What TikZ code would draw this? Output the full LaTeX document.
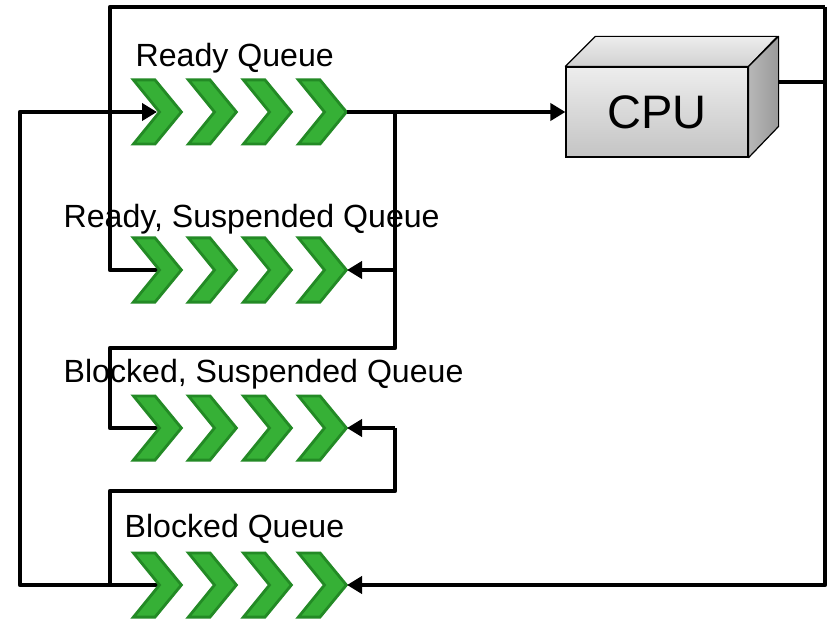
\documentclass[tikz,border=0pt]{standalone}
\usepackage{fontspec}
\setmainfont{Liberation Sans}
\usetikzlibrary{arrows.meta}
\definecolor{chevfill}{HTML}{36B036}
\definecolor{chevedge}{HTML}{238A25}
\definecolor{cpufront1}{HTML}{EDEDED}
\definecolor{cpufront2}{HTML}{C4C4C4}
\tikzset{
  flow/.style={line width=4.8pt, line join=round, draw=black},
  tip/.style={-{Triangle[length=15pt,width=17pt]}},
  qlabel/.style={anchor=base west, inner sep=0pt, font=\fontsize{32.1}{36}\selectfont},
  chevron/.pic={
    \draw[line width=2.8pt, draw=chevedge, fill=chevfill, line join=miter]
      (1.4,-32.1) -- (23,-32.1) -- (49.4,0) -- (23,32.1) -- (1.4,32.1) -- (27.5,0) -- cycle;
  }
}
\newcommand\drawqueue[1]{%
  \foreach \cx in {132,187,242,297} { \pic at (\cx,#1) {chevron}; }%
}
\begin{document}
\begin{tikzpicture}[x=1pt,y=-1pt]
\useasboundingbox (0,0) rectangle (829,620);
\fill[white] (0,0) rectangle (829,620);

% queue end points
\coordinate (rq-in) at (157,112);  \coordinate (rq-out) at (347,112);
\coordinate (rsq-in) at (165,270); \coordinate (rsq-out) at (347,270);
\coordinate (bsq-in) at (165,428); \coordinate (bsq-out) at (347,428);
\coordinate (bq-in) at (165,585);  \coordinate (bq-out) at (347,585);

% routing points
\coordinate (tl) at (110,7);   \coordinate (tr) at (825,7);
\coordinate (br) at (825,585); \coordinate (cpuj) at (825,82);
\coordinate (s1) at (395,112); \coordinate (s1b) at (395,270);
\coordinate (s2) at (395,348); \coordinate (s3) at (110,348);
\coordinate (s4) at (110,428);
\coordinate (u1) at (395,428); \coordinate (u2) at (395,491);
\coordinate (u3) at (110,491); \coordinate (u4) at (110,585);
\coordinate (l1) at (20,585);  \coordinate (l2) at (20,112);

% CPU
\node[draw, line width=1.2pt, minimum width=182pt, minimum height=90pt,
      top color=cpufront1, bottom color=cpufront2, inner sep=0pt,
      font=\fontsize{47}{50}\selectfont] (cpu) at (657,112) {CPU};
\draw[line width=1.2pt, line join=round, top color=white!93!black, bottom color=white!82!black]
  (cpu.north west) -- ++(30,-30) -- ++(182,0) -- (cpu.north east) -- cycle;
\draw[line width=1.2pt, line join=round, left color=white!72!black, right color=white!60!black]
  (cpu.north east) -- ++(30,-30) -- ++(0,90) -- (cpu.south east) -- cycle;
\coordinate (cpu-r) at ([xshift=30pt,yshift=30pt]cpu.east);

% connectors (under the chevrons)
\draw[flow] (cpu-r) -- (cpuj);
\draw[flow] (tr) -- (tl) -- (110,270) -- (rsq-in);
\draw[flow] (s1) -- (s2) -- (s3) -- (s4) -- (bsq-in);
\draw[flow] (u1) -- (u2) -- (u3) -- (u4) -- (bq-in);
\draw[flow] (bq-in) -- (l1) -- (l2) -- (140,112);

% queues
\drawqueue{112}
\drawqueue{270}
\drawqueue{428}
\drawqueue{585}

% arrows on top
\draw[flow,tip] (140,112) -- (rq-in);
\draw[flow,tip] (rq-out) -- (rq-out -| cpu.west);
\draw[flow,tip] (s1b) -- (rsq-out);
\draw[flow,tip] (u1) -- (bsq-out);
\draw[flow,tip] (tr) -- (br) -- (bq-out);

% labels
\node[qlabel] (lrq) at (135.5,67) {Ready Queue};
\node[qlabel] (lrsq) at (63.5,228) {Ready, Suspended Queue};
\node[qlabel] (lbsq) at (63.5,382) {Blocked, Suspended Queue};
\node[qlabel] (lbq) at (124.5,537) {Blocked Queue};
\end{tikzpicture}
\end{document}
